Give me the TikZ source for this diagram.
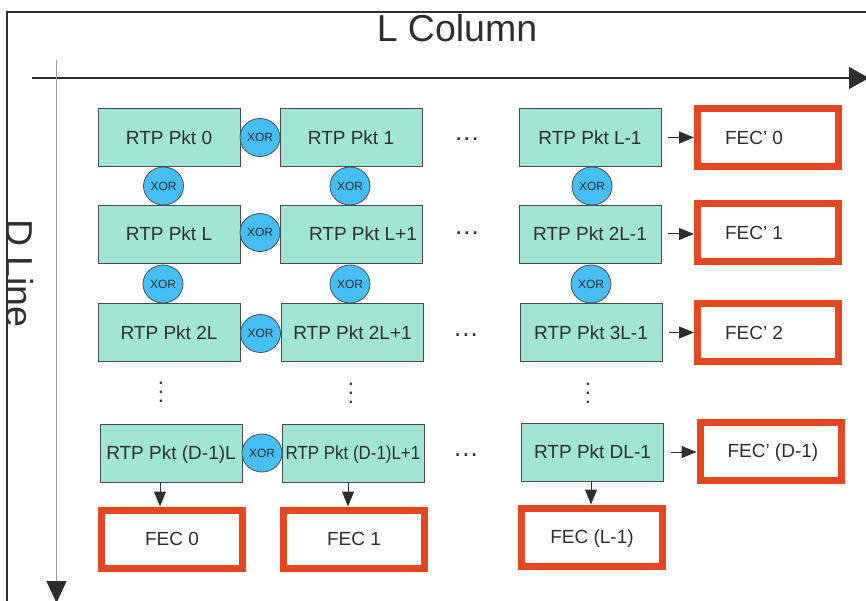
\documentclass[tikz,border=0pt]{standalone}
\usepackage{fontspec}
\setmainfont{Liberation Sans}
\usetikzlibrary{shapes.geometric,arrows.meta}

\definecolor{pktfill}{HTML}{A1E6D5}
\definecolor{xorfill}{HTML}{45BEF5}
\definecolor{fecred}{HTML}{E4471F}
\definecolor{ink}{HTML}{2E2E2E}
\definecolor{edge}{HTML}{4A4A4A}
\definecolor{axisgray}{HTML}{9A9A9A}

\tikzset{
  body/.style={font=\fontsize{19}{22}\selectfont, text=ink, text height=13.6pt, text depth=0pt, inner sep=0pt},
  pkt/.style={body, draw=edge, line width=0.9pt, fill=pktfill, minimum width=142pt, minimum height=58pt},
  xorop/.style={ellipse, draw=edge, line width=0.8pt, fill=xorfill, minimum width=40pt, minimum height=38pt,
    inner sep=0pt, text=ink, font=\fontsize{12}{14}\selectfont},
  fec/.style={body, draw=fecred, line width=7pt, fill=white, minimum width=141pt, minimum height=58pt},
  fecrow/.style={fec},
  flow/.style={draw=ink, line width=1pt, -{Triangle[length=15pt,width=12pt]}},
  hdots/.style={anchor=base, text=ink, inner sep=0pt},
  vdotsnode/.style={anchor=base, text=ink, inner sep=0pt},
  bigtitle/.style={text=ink, font=\fontsize{37.5}{40}\selectfont, inner sep=0pt},
}
\newcommand{\fectext}[1]{\makebox[86pt][l]{#1}}
\newcommand{\rowgap}{{\fontsize{26}{28}\selectfont .\kern1pt.\kern1pt.}}
\newcommand{\colgap}{\scalebox{2.2}{$\vdots$}}

\begin{document}
\begin{tikzpicture}[x=1pt, y=-1pt]
\useasboundingbox (0,0) rectangle (866,601);
\clip (0,0) rectangle (866,601);

% axis label running down the left edge, cut off by the frame
\begin{scope}
  \clip (7,12) rectangle (900,700);
  \node[bigtitle, rotate=-90, anchor=base] (dline) at (6,273.5) {D Line};
\end{scope}

% outer frame
\draw[line width=2pt, ink] (7,700) -- (7,12) -- (900,12);

% column axis title
\node[bigtitle, anchor=base] (lcol) at (457,42) {L Column};

% axes
\coordinate (hx0) at (31.5,78);
\coordinate (hx1) at (869,78);
\draw[line width=1.3pt, ink, -{Triangle[length=20pt,width=22pt]}] (hx0) -- (hx1);
\coordinate (vy0) at (56.5,60);
\coordinate (vy1) at (56.5,603);
\draw[line width=1.3pt, axisgray, -{Triangle[length=22pt,width=20pt,color=ink]}] (vy0) -- (vy1);

% packet matrix
\node[pkt] (p00) at (169,137.5) {RTP Pkt 0};
\node[pkt] (p01) at (351,137.5) {RTP Pkt 1};
\node[pkt] (p02) at (590,137.5) {RTP Pkt L-1};

\node[pkt] (p10) at (169,234) {RTP Pkt L};
\node[pkt] (p11) at (351,234) {\hspace{24pt}RTP Pkt L+1};
\node[pkt] (p12) at (590,234) {RTP Pkt 2L-1};

\node[pkt] (p20) at (169,332.5) {RTP Pkt 2L};
\node[pkt] (p21) at (352.5,332.5) {RTP Pkt 2L+1};
\node[pkt] (p22) at (591,332.5) {RTP Pkt 3L-1};

\node[pkt] (p30) at (171,453) {RTP Pkt (D-1)L};
\node[pkt] (p31) at (353,453) {\scalebox{0.89}[1]{RTP Pkt (D-1)L+1}};
\node[pkt] (p32) at (592.5,452) {RTP Pkt DL-1};

% XOR operators between neighbouring packets
\node[xorop] (x0h) at (260,137.5) {XOR};
\node[xorop] (x1h) at (260,232.5) {XOR};
\node[xorop] (x2h) at (260.5,333.5) {XOR};
\node[xorop] (x3h) at (262,453) {XOR};

\node[xorop] (x00v) at (163.5,186) {XOR};
\node[xorop] (x01v) at (350,186) {XOR};
\node[xorop] (x02v) at (592,186) {XOR};
\node[xorop] (x10v) at (163,284) {XOR};
\node[xorop] (x11v) at (350,284) {XOR};
\node[xorop] (x12v) at (591,284) {XOR};

% ellipses for omitted columns and rows
\node[hdots] (hd0) at (467,140.5) {\rowgap};
\node[hdots] (hd1) at (467,234.5) {\rowgap};
\node[hdots] (hd2) at (466,336.5) {\rowgap};
\node[hdots] (hd3) at (466,456.5) {\rowgap};

\node[vdotsnode] (vd0) at (161,402) {\colgap};
\node[vdotsnode] (vd1) at (351,403) {\colgap};
\node[vdotsnode] (vd2) at (588,403) {\colgap};

% row FEC packets
\node[fecrow] (q0) at (768,137.5) {\fectext{FEC’ 0}};
\node[fecrow] (q1) at (768,233) {\fectext{FEC’ 1}};
\node[fecrow] (q2) at (768,332.5) {\fectext{FEC’ 2}};
\node[fecrow] (q3) at (770.5,451) {\fectext{FEC’ (D-1)}};

% column FEC packets
\node[fec] (f0) at (172,539) {FEC 0};
\node[fec] (f1) at (354,539) {FEC 1};
\node[fec] (f2) at (592,537) {FEC (L-1)};

% row arrows
\draw[flow] ([xshift=7pt]p02.east) -- (p02.east -| q0.west);
\draw[flow] ([xshift=7pt]p12.east) -- (p12.east -| q1.west);
\draw[flow] ([xshift=7pt]p22.east) -- (p22.east -| q2.west);
\draw[flow] ([xshift=7pt]p32.east) -- (p32.east -| q3.west);

% column arrows
\path ([xshift=-11pt]p30.south) coordinate (d0);
\path ([xshift=-5pt]p31.south) coordinate (d1);
\path ([xshift=-1.5pt]p32.south) coordinate (d2);
\draw[flow] (d0) -- (d0 |- f0.north);
\draw[flow] (d1) -- (d1 |- f1.north);
\draw[flow] (d2) -- (d2 |- f2.north);
\end{tikzpicture}
\end{document}
